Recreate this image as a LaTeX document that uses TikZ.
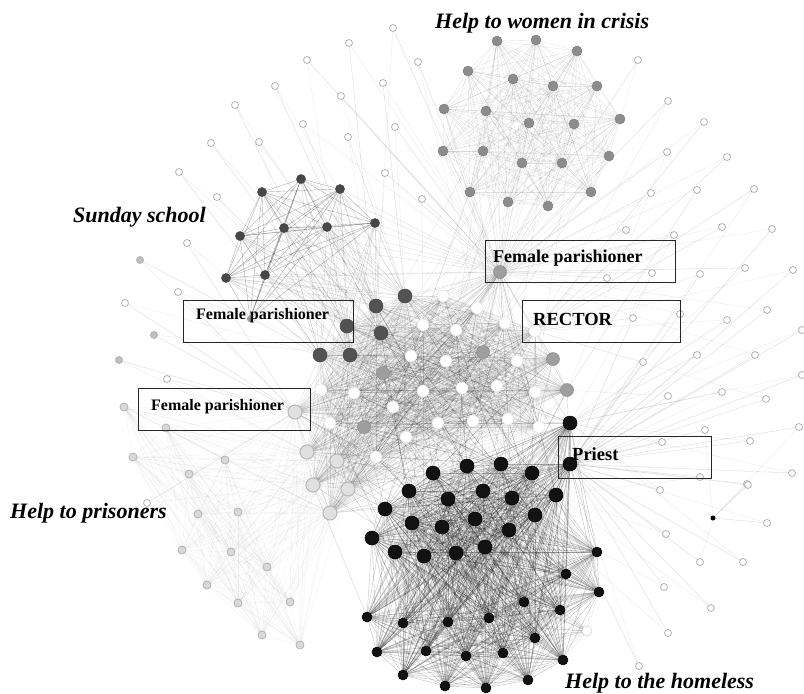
\documentclass[tikz,border=0pt]{standalone}
\usepackage{fontspec}
\setmainfont{Liberation Serif}
\pgfdeclarelayer{bg}
\pgfsetlayers{bg,main}
\begin{document}
\begin{tikzpicture}[x=1pt,y=-1pt,
 nd/.style={circle,inner sep=0pt,line width=.5pt},
 wn/.style={nd,minimum size=10pt,fill=black!45,draw=black!50},
 sn/.style={nd,minimum size=9pt,fill=black!72,draw=black!75},
 dn/.style={nd,minimum size=14pt,fill=black!68,draw=black!72},
 mn/.style={nd,minimum size=13pt,fill=black!38,draw=black!45},
 whn/.style={nd,minimum size=12pt,fill=white,draw=black!12},
 ln/.style={nd,minimum size=14pt,fill=black!12,draw=black!28,line width=1pt},
 kn/.style={nd,minimum size=14pt,fill=black!93,draw=black},
 kns/.style={nd,minimum size=10pt,fill=black!93,draw=black},
 pn/.style={nd,minimum size=8pt,fill=black!15,draw=black!30,line width=.8pt},
 on/.style={nd,minimum size=7pt,fill=white,draw=black!30,line width=.8pt},
 ogn/.style={nd,minimum size=7pt,fill=black!25,draw=black!30,line width=.8pt},
 wedge/.style={draw=black,line width=.35pt,draw opacity=.11},
 sedge/.style={draw=black,line width=.4pt,draw opacity=.3},
 cedge/.style={draw=black,line width=.4pt,draw opacity=.12},
 kedge/.style={draw=black,line width=.4pt,draw opacity=.24},
 pedge/.style={draw=black,line width=.35pt,draw opacity=.06},
 oedge/.style={draw=black,line width=.4pt,draw opacity=.14},
 lab/.style={font=\fontsize{22}{24}\selectfont\bfseries\itshape,inner sep=0pt,anchor=base west},
 boxtxt/.style={font=\fontsize{16}{18}\selectfont\bfseries,inner sep=0pt,anchor=base west},
 bx/.style={draw=black!85,line width=1.2pt,inner sep=0pt,anchor=north west,fill=none}]
\useasboundingbox (0,0) rectangle (804,694);
% women in crisis
\foreach [count=\i] \p in {(497,41),(536,40),(577,51),(468,71),(513,79),(553,86),(597,86),(444,109),(486,111),(529,123),(574,124),(620,119),(443,151),(483,151),(522,163),(562,163),(609,156),(470,192),(508,202),(548,206),(591,192)}
  \node[wn] (w\i) at \p {};
% sunday school
\foreach [count=\i] \p in {(301,179),(262,192),(340,189),(284,228),(327,227),(375,223),(240,236),(265,275),(226,278)}
  \node[sn] (s\i) at \p {};
\node[nd,minimum size=6pt,fill=black!40] (fpm) at (250,319) {};
% core
\foreach [count=\i] \p/\st in {(535,331)/whn,(500,272)/mn,(295,412)/ln,
 (405,296)/dn,(376,306)/dn,(347,326)/dn,(381,333)/dn,(320,355)/dn,(350,355)/dn,
 (383,373)/mn,(483,352)/mn,(553,359)/mn,(567,390)/mn,(364,427)/mn,
 (443,296)/whn,(477,308)/whn,(423,325)/whn,(456,330)/whn,(505,323)/whn,(411,356)/whn,(446,361)/whn,(517,361)/whn,(321,390)/whn,(354,393)/whn,(423,391)/whn,(462,388)/whn,(497,386)/whn,(535,392)/whn,(393,407)/whn,(330,423)/whn,(438,423)/whn,(473,421)/whn,(508,419)/whn,(539,427)/whn,(406,437)/whn,(376,457)/whn,
 (307,452)/ln,(337,461)/ln,(313,485)/ln,(348,489)/ln,(330,513)/ln}
  \node[\st] (c\i) at \p {};
% homeless / black
\foreach [count=\i] \p/\st in {(570,464)/kn,(570,423)/kn,(433,473)/kn,(467,466)/kn,(501,464)/kn,(532,473)/kn,(409,491)/kn,(448,499)/kn,(483,491)/kn,(512,498)/kn,(556,495)/kn,(385,509)/kn,(535,515)/kn,
 (412,523)/kn,(442,527)/kn,(475,519)/kn,(509,530)/kn,(372,538)/kn,(395,552)/kn,(424,556)/kn,(456,553)/kn,(485,547)/kn,(597,552)/kns,(566,574)/kns,(599,592)/kns,(524,602)/kns,(560,610)/kns,(367,617)/kns,(403,623)/kns,(448,622)/kns,(489,618)/kns,(535,638)/kns,(377,652)/kns,(426,651)/kns,(466,656)/kns,(503,653)/kns,(563,660)/kns,(403,675)/kns,(445,686)/kns,(486,688)/kns,(528,680)/kns}
  \node[\st] (h\i) at \p {};
\node[nd,minimum size=10pt,fill=white,draw=black!20] (hw) at (587,631) {};
\node[nd,minimum size=5pt,fill=black] (iso) at (713,518) {};
% prisoners
\foreach [count=\i] \p in {(124,407),(166,428),(133,457),(225,460),(189,474),(198,514),(238,512),(182,550),(231,552),(267,567),(207,585),(238,603),(290,602),(262,635),(300,645)}
  \node[pn] (p\i) at \p {};
% outer nodes with their hubs
\foreach [count=\i] \p/\st/\ha/\hb in {
 (393,28)/on/c2/c5,(349,43)/on/c5/c2,(307,60)/on/c2/c6,(275,86)/on/c5/c4,(235,105)/on/c6/c5,(341,96)/on/c2/c4,(383,83)/on/c4/c2,(418,62)/on/c2/c16,
 (303,124)/on/c5/c2,(395,127)/on/c2/c4,(348,137)/on/c4/c7,(211,143)/on/c6/c7,(259,142)/on/c5/c8,(179,172)/on/c8/c6,(385,173)/on/c2/c5,(217,197)/on/c6/c9,(422,199)/on/c2/c17,
 (187,243)/on/c3/c8,(178,292)/on/c3/c9,(125,303)/on/c3/c8,(167,379)/on/c3/c37,(140,260)/ogn/c8/c3,(154,335)/ogn/c3/c9,(119,360)/ogn/c3/c37,(147,503)/on/c3/c39,
 (638,60)/on/c2/w12,(668,101)/on/c2/c1,(704,122)/on/c1/c2,(667,152)/on/c2/c13,(727,157)/on/c1/c2,(651,193)/on/c2/c1,(697,190)/on/c13/c2,(754,189)/on/c1/h1,(626,230)/on/c2/c1,(674,235)/on/c2/h2,(722,227)/on/c1/c2,(772,229)/on/h1/c2,
 (652,273)/on/c2/h1,(700,274)/on/h1/c1,(745,268)/on/c2/h2,(793,270)/on/h1/c1,(607,278)/on/c2/c1,(633,318)/on/c1/h1,(680,314)/on/h1/c2,(727,320)/on/h2/c1,(767,310)/on/h1/c2,(802,330)/on/h1/h2,
 (643,362)/on/h1/c1,(697,355)/on/h2/h1,(755,355)/on/h1/c2,(668,396)/on/h1/c13,(722,392)/on/h2/h1,(766,399)/on/h1/c1,(802,375)/on/h1/h2,(705,430)/on/h1/iso,(750,441)/on/h1/h2,(799,427)/on/h1/iso,
 (662,442)/on/h1/h2,(700,477)/on/h1/h11,(747,484)/on/h1/iso,(792,473)/on/h1/h2,(660,490)/on/h1/h2,(748,485)/on/iso/h1,
 (767,523)/on/iso/h1,(666,534)/on/h1/h11,(700,562)/on/h1/iso,(743,562)/on/h1/h2,(664,587)/on/h1/h13,(711,608)/on/h1/h11,(668,633)/on/h1/h13,(639,666)/on/h11/h1}
 {\node[\st] (o\i) at \p {};
  \begin{pgfonlayer}{bg}
  \draw[oedge] (o\i.center)--(\ha.center);
  \draw[oedge,draw opacity=.08] (o\i.center)--(\hb.center);
  \end{pgfonlayer}}
% connectors
\begin{pgfonlayer}{bg}
\foreach \i in {1,...,20}{\pgfmathtruncatemacro\nx{\i+1}
  \foreach \j in {\nx,...,21}{\draw[wedge] (w\i.center)--(w\j.center);}}
\foreach \i in {1,...,21}{\pgfmathtruncatemacro\k{mod(\i*3,20)+15}
  \draw[wedge] (w\i.center)--(c2.center);
  \draw[wedge] (w\i.center)--(c\k.center);}
\foreach \i in {1,...,8}{\pgfmathtruncatemacro\nx{\i+1}
  \foreach \j in {\nx,...,9}{\draw[sedge] (s\i.center)--(s\j.center);}}
\foreach \i in {1,...,9}{
  \draw[sedge] (s\i.center)--(fpm.center);
  \foreach \j in {4,...,9}{\draw[sedge,draw opacity=.16] (s\i.center)--(c\j.center);}
  \pgfmathtruncatemacro\k{mod(\i*5,22)+15}
  \draw[sedge,draw opacity=.12] (s\i.center)--(c\k.center);
  \draw[sedge,draw opacity=.12] (s\i.center)--(c2.center);}
\foreach \i in {1,...,40}{\pgfmathtruncatemacro\nx{\i+1}
  \foreach \j in {\nx,...,41}{\draw[cedge] (c\i.center)--(c\j.center);}}
\foreach \i in {1,...,40}{\pgfmathtruncatemacro\nx{\i+1}
  \foreach \j in {\nx,...,41}{\draw[kedge] (h\i.center)--(h\j.center);}}
\foreach \i in {1,...,41}{\pgfmathtruncatemacro\k{mod(\i*7,41)+1}\pgfmathtruncatemacro\m{mod(\i*11,13)+1}\pgfmathtruncatemacro\q{mod(\i*5,22)+1}
  \draw[cedge,draw opacity=.18] (c\i.center)--(h\k.center);
  \draw[cedge,draw opacity=.18] (c\i.center)--(h\m.center);
  \draw[cedge,draw opacity=.18] (c\i.center)--(h\q.center);}
\foreach \i in {14,...,41}{\draw[kedge,draw opacity=.1] (hw.center)--(h\i.center);}
\foreach \i in {1,...,14}{\pgfmathtruncatemacro\nx{\i+1}
  \foreach \j in {\nx,...,15}{\draw[pedge] (p\i.center)--(p\j.center);}}
\foreach \i in {1,...,15}{\draw[pedge] (p\i.center)--(c3.center);
  \foreach \j in {37,...,41}{\draw[pedge] (p\i.center)--(c\j.center);}}
\end{pgfonlayer}
% labels
\node[lab] (lw) at (435,28) {Help to women in crisis};
\node[lab] (ls) at (73,222) {Sunday school};
\node[lab] (lp) at (10,518) {Help to prisoners};
\node[lab] (lh) at (565,688) {Help to the homeless};
% boxes
\node[bx,minimum width=190pt,minimum height=42pt] (b1) at (485,240) {};
\node[boxtxt,font=\fontsize{18}{20}\selectfont\bfseries] (t1) at (493,262) {Female parishioner};
\node[bx,minimum width=158pt,minimum height=42pt] (b2) at (522,300) {};
\node[boxtxt,font=\fontsize{18.5}{20}\selectfont\bfseries] (t2) at (533,325) {RECTOR};
\node[bx,minimum width=170pt,minimum height=42pt] (b3) at (183,300) {};
\node[boxtxt] (t3) at (196,319) {Female parishioner};
\node[bx,minimum width=172pt,minimum height=42pt] (b4) at (138,388) {};
\node[boxtxt] (t4) at (151,410) {Female parishioner};
\node[bx,minimum width=153pt,minimum height=42pt] (b5) at (558,436) {};
\node[boxtxt,font=\fontsize{18.5}{20}\selectfont\bfseries] (t5) at (572,460) {Priest};
\end{tikzpicture}
\end{document}
